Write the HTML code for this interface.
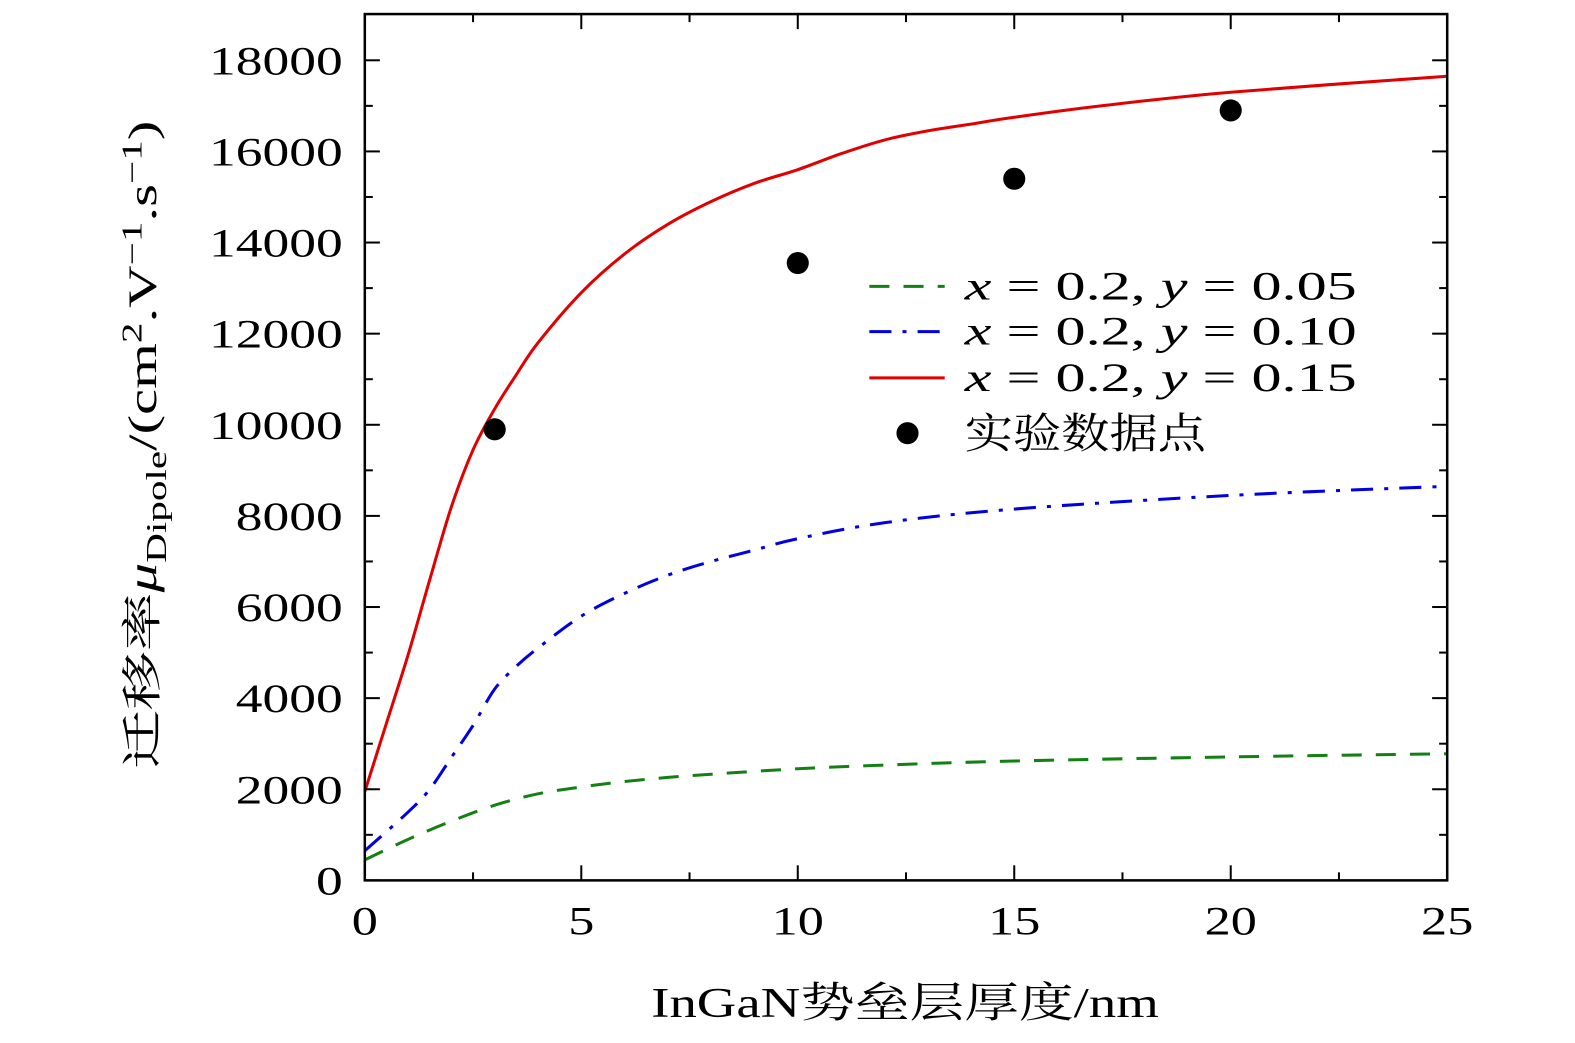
<!DOCTYPE html>
<html><head><meta charset="utf-8"><style>
html,body{margin:0;padding:0;background:#fff;overflow:hidden;width:1575px;height:1043px;}
svg{display:block;}
svg text{font-family:"Liberation Serif","Noto Serif CJK SC",serif;}
</style></head><body>
<svg width="1575" height="1043" viewBox="0 0 1575 1043">
<g transform="scale(1.005)">
<g id="plot"></g>
<g id="axes"></g>
<text x="648" y="1012" font-size="42" textLength="505" lengthAdjust="spacingAndGlyphs">InGaN势垒层厚度/nm</text>
<text transform="translate(155,765) rotate(-90)" font-size="40" textLength="645" lengthAdjust="spacingAndGlyphs">迁移率<tspan font-style="italic">μ</tspan><tspan font-size="28" dy="10">Dipole</tspan><tspan dy="-10">/(cm</tspan><tspan font-size="28" dy="-14">2</tspan><tspan dy="14">.V</tspan><tspan font-size="28" dy="-14">−1</tspan><tspan dy="14">.s</tspan><tspan font-size="28" dy="-14">−1</tspan><tspan dy="14">)</tspan></text>
<g font-size="40">
<line x1="865" y1="285" x2="940" y2="285" stroke="#138013" stroke-width="3" stroke-dasharray="20,14"/>
<text x="960" y="298" textLength="390" lengthAdjust="spacingAndGlyphs"><tspan font-style="italic">x</tspan> = 0.2, <tspan font-style="italic">y</tspan> = 0.05</text>
<line x1="865" y1="330" x2="940" y2="330" stroke="#0000e0" stroke-width="3" stroke-dasharray="22,11,4,11"/>
<text x="960" y="343" textLength="390" lengthAdjust="spacingAndGlyphs"><tspan font-style="italic">x</tspan> = 0.2, <tspan font-style="italic">y</tspan> = 0.10</text>
<line x1="865" y1="376" x2="940" y2="376" stroke="#e00000" stroke-width="3"/>
<text x="960" y="389" textLength="390" lengthAdjust="spacingAndGlyphs"><tspan font-style="italic">x</tspan> = 0.2, <tspan font-style="italic">y</tspan> = 0.15</text>
<circle cx="903" cy="431" r="11" fill="#000"/>
<text x="960" y="446" font-size="42" textLength="240" lengthAdjust="spacingAndGlyphs">实验数据点</text>
</g>
</g>
</svg>
<script>
const xTicks=[0,5,10,15,20,25];
const yTicks=[0,2000,4000,6000,8000,10000,12000,14000,16000,18000];
const greenX=[0,1,2,3,4,5,6,7,8,10,12,15,20,25];
const greenY=[450,900,1300,1650,1900,2050,2170,2260,2330,2450,2530,2620,2710,2780];
const blueX=[0,1,1.5,2,2.5,3,3.5,4,5,6,7,8,9,10,12,15,20,25];
const blueY=[650,1500,2000,2700,3400,4200,4700,5100,5800,6300,6700,7000,7250,7500,7850,8150,8450,8650];
const redX=[0,0.5,1,1.5,2,2.5,3,3.5,4,5,6,7,8,9,10,11,12,13,14,15,17,20,25];
const redY=[1950,3450,4950,6600,8200,9450,10350,11100,11800,12900,13750,14400,14900,15300,15600,15950,16250,16450,16600,16750,17000,17300,17650];
const expX=[3,10,15,20];
const expY=[9900,13550,15400,16900];
const L=363,R=1440,T=14,B=876;
const sx=v=>L+(v/25)*(R-L);
const sy=v=>B-(v/18000)*(B-60);
const NS="http://www.w3.org/2000/svg";
const plot=document.getElementById('plot'),axes=document.getElementById('axes');
function mk(tag,attrs,parent){const e=document.createElementNS(NS,tag);for(const k in attrs)e.setAttribute(k,attrs[k]);parent.appendChild(e);return e;}
function path(xs,ys){
  const p=xs.map((x,i)=>[sx(x),sy(ys[i])]);
  let d='M'+p[0][0]+','+p[0][1];
  for(let i=0;i<p.length-1;i++){
    const p0=p[i-1]||p[i],p1=p[i],p2=p[i+1],p3=p[i+2]||p2;
    const c1=[p1[0]+(p2[0]-p0[0])/6,p1[1]+(p2[1]-p0[1])/6];
    const c2=[p2[0]-(p3[0]-p1[0])/6,p2[1]-(p3[1]-p1[1])/6];
    d+=' C'+c1+' '+c2+' '+p2;
  }
  return d;
}
let e;
e=mk('path',{d:path(greenX,greenY),fill:'none',stroke:'#138013','stroke-width':3,'stroke-dasharray':'20,14'},plot);


e=mk('path',{d:path(blueX,blueY),fill:'none',stroke:'#0000e0','stroke-width':3,'stroke-dasharray':'22,11,4,11'},plot);


e=mk('path',{d:path(redX,redY),fill:'none',stroke:'#e00000','stroke-width':3},plot);


expX.forEach((x,i)=>{
  const c=mk('circle',{cx:sx(x),cy:sy(expY[i]),r:11,fill:'#000'},plot);
  
  
});
e=mk('rect',{x:L,y:T,width:R-L,height:B-T,fill:'none',stroke:'#000','stroke-width':2.5},axes);


for(let v=0;v<=25;v+=2.5){
  const major=v%5===0,len=major?15:8;
  mk('line',{x1:sx(v),y1:B,x2:sx(v),y2:B-len,stroke:'#000','stroke-width':2},axes);
  mk('line',{x1:sx(v),y1:T,x2:sx(v),y2:T+len,stroke:'#000','stroke-width':2},axes);
}
for(let v=0;v<=18000;v+=1000){
  const major=v%2000===0,len=major?15:8;
  mk('line',{x1:L,y1:sy(v),x2:L+len,y2:sy(v),stroke:'#000','stroke-width':2},axes);
  mk('line',{x1:R,y1:sy(v),x2:R-len,y2:sy(v),stroke:'#000','stroke-width':2},axes);
}
xTicks.forEach(v=>{
  const s=String(v);
  const w=s.length*26;
  const t=mk('text',{x:sx(v)-w/2,y:930,'font-size':40,textLength:w,lengthAdjust:'spacingAndGlyphs'},axes);t.textContent=s;
  
  
});
yTicks.forEach(v=>{
  const s=String(v);
  const w=s.length*26.6;
  const t=mk('text',{x:341-w,y:sy(v)+14,'font-size':40,textLength:w,lengthAdjust:'spacingAndGlyphs'},axes);t.textContent=s;
  
  
});
</script>
</body></html>
